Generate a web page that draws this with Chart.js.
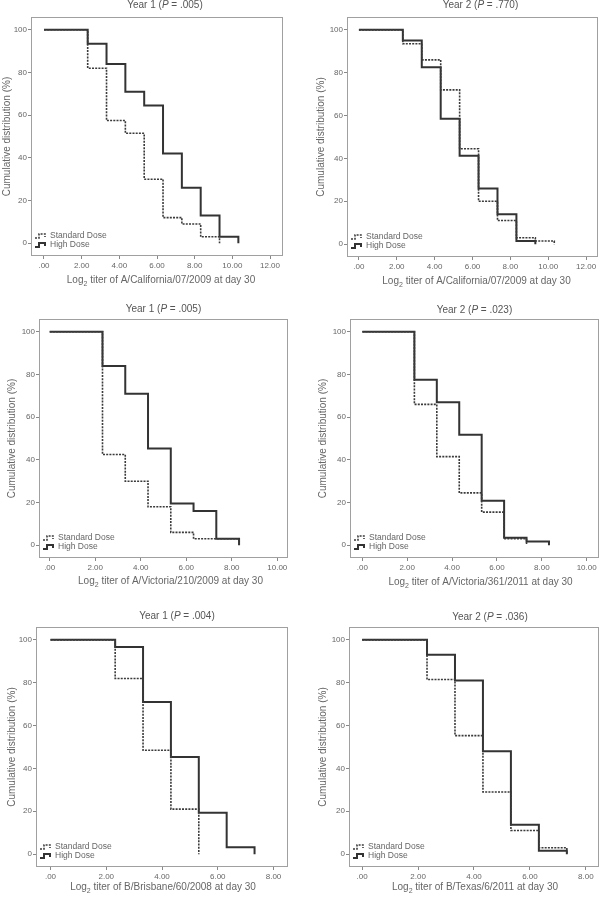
<!DOCTYPE html>
<html>
<head>
<meta charset="utf-8">
<script src="https://cdn.jsdelivr.net/npm/chart.js@4.4.1/dist/chart.umd.min.js"></script>
<style>
  body { margin: 0; background: #fff; width: 603px; height: 899px; overflow: hidden; position: relative; }
  canvas { position: absolute; }
</style>
</head>
<body>
<canvas id="p1"></canvas>
<canvas id="p2"></canvas>
<canvas id="p3"></canvas>
<canvas id="p4"></canvas>
<canvas id="p5"></canvas>
<canvas id="p6"></canvas>
<script>
// log2 titer steps (x) and cumulative distribution (%)
var titers = [0, 2.32, 3.32, 4.32, 5.32, 6.32, 7.32, 8.32, 9.32, 10.32];

var calY1Std  = [100, 82, 57.5, 51.5, 30, 12, 9, 3, 0];
var calY1High = [100, 93.5, 84, 71, 64.5, 42, 26, 13, 3, 0];
var calY2Std  = [100, 93.5, 86, 72, 44.5, 20, 11, 3, 1.5, 0];
var calY2High = [100, 95, 82.5, 58.5, 41.3, 26, 14, 1.5, 0];

var vic1StdX  = [0, 2.32, 3.32, 4.32, 5.32, 6.32, 8.32];
var vic1Std   = [100, 42.5, 30, 18, 6, 3, 0];
var vic1High  = [100, 84, 71, 45.3, 19.5, 16, 3, 0];
var vic2Std   = [100, 66, 41.5, 24.5, 15.5, 3, 0];
var vic2High  = [100, 77.5, 67, 51.8, 20.8, 3.5, 1.7, 0];

var bris1Std  = [100, 82, 48.5, 21, 0];
var bris1High = [100, 96.7, 71, 45.3, 19.3, 3.2, 0];
var tex2Std   = [100, 81.5, 55.3, 29, 11, 3, 0];
var tex2High  = [100, 93, 81, 48, 13.7, 1.6, 0];

var seriesLabels = ['Standard Dose', 'High Dose'];
var yearLabels = ['Year 1', 'Year 2'];
var pValues = ['.005', '.770', '.005', '.023', '.004', '.036'];
var strains = ['A/California/07/2009', 'A/California/07/2009', 'A/Victoria/210/2009',
               'A/Victoria/361/2011', 'B/Brisbane/60/2008', 'B/Texas/6/2011'];
var yTicks = [0, 20, 40, 60, 80, 100];

var FONT = "'Liberation Sans', Arial, sans-serif";
var TXT = '#666';

function pts(xs, ys) {
  return ys.map(function(y, i){ return {x: xs[i], y: y}; });
}

// panel layout (page pixels)
var panels = [
  {id:'p1', l:0,   t:0,   w:300, h:295, padT:17, padR:17, yW:31, xH:39, xTop:12, pad:0.69, titleDx:8,  titleDy:12, xtDx:4,  xtDy:24,
   std: pts(titers, calY1Std), high: pts(titers, calY1High), year:0},
  {id:'p2', l:314, t:0,   w:289, h:295, padT:17, padR:5,  yW:33, xH:38, xTop:12, pad:0.63, titleDx:8,  titleDy:12, xtDx:4,  xtDy:24,
   std: pts(titers, calY2Std), high: pts(titers, calY2High), year:1},
  {id:'p3', l:5,   t:295, w:295, h:300, padT:24, padR:12, yW:34, xH:37, xTop:10, pad:0.47, titleDx:0,  titleDy:10, xtDx:7,  xtDy:23,
   std: pts(vic1StdX, vic1Std), high: pts(titers, vic1High), year:0},
  {id:'p4', l:316, t:295, w:287, h:300, padT:24, padR:4,  yW:34, xH:37, xTop:10, pad:0.55, titleDx:0,  titleDy:9,  xtDx:6,  xtDy:24,
   std: pts(titers, vic2Std), high: pts(titers, vic2High), year:1},
  {id:'p5', l:5,   t:595, w:295, h:304, padT:32, padR:12, yW:31, xH:32, xTop:8,  pad:0.52, titleDx:15, titleDy:11, xtDx:1,  xtDy:20,
   std: pts(titers, bris1Std), high: pts(titers, bris1High), year:0},
  {id:'p6', l:316, t:595, w:287, h:304, padT:32, padR:4,  yW:33, xH:32, xTop:8,  pad:0.47, titleDx:16, titleDy:10, xtDx:1,  xtDy:20,
   std: pts(titers, tex2Std), high: pts(titers, tex2High), year:1}
];

// frame, panel title, x-axis title with subscript, and inline legend
var decor = {
  id: 'decor',
  afterDraw: function(chart, args, o) {
    var ctx = chart.ctx, a = chart.chartArea;
    var cx = (a.left + a.right) / 2;
    ctx.save();
    ctx.strokeStyle = '#a0a0a0';
    ctx.lineWidth = 1;
    ctx.strokeRect(Math.round(a.left) + 0.5, Math.round(a.top) + 0.5,
                   Math.round(a.right - a.left) - 1, Math.round(a.bottom - a.top) - 1);

    ctx.fillStyle = '#555';
    ctx.textBaseline = 'middle';
    ctx.textAlign = 'left';

    // title: Year n (P = .xxx)
    var parts = [[o.year + ' (', 'normal'], ['P', 'italic'], [' = ' + o.p + ')', 'normal']];
    var total = 0;
    parts.forEach(function(p){ ctx.font = p[1] + ' 10px ' + FONT; p.push(ctx.measureText(p[0]).width); total += p[2]; });
    var x = cx + o.titleDx - total / 2, y = a.top - o.titleDy;
    parts.forEach(function(p){ ctx.font = p[1] + ' 10px ' + FONT; ctx.fillText(p[0], x, y); x += p[2]; });

    // x-axis title: Log2 titer of ... at day 30
    ctx.fillStyle = TXT;
    var rest = ' titer of ' + o.strain + ' at day 30';
    ctx.font = '10px ' + FONT;
    var wLog = ctx.measureText('Log').width, wRest = ctx.measureText(rest).width;
    ctx.font = '7px ' + FONT;
    var wSub = ctx.measureText('2').width;
    x = cx + o.xtDx - (wLog + wSub + wRest) / 2;
    y = a.bottom + o.xtDy;
    ctx.font = '10px ' + FONT;
    ctx.fillText('Log', x, y);
    ctx.font = '7px ' + FONT;
    ctx.fillText('2', x + wLog, y + 4);
    ctx.font = '10px ' + FONT;
    ctx.fillText(rest, x + wLog + wSub, y);

    // legend
    ctx.font = '8.5px ' + FONT;
    chart.data.datasets.forEach(function(ds, i) {
      var ly = a.bottom - 20 + i * 9, lx = a.left + 4;
      ctx.save();
      ctx.strokeStyle = ds.borderColor;
      ctx.lineWidth = ds.borderWidth;
      ctx.setLineDash(ds.borderDash || []);
      ctx.beginPath();
      ctx.moveTo(lx, ly + 2);
      ctx.lineTo(lx + 4, ly + 2);
      ctx.lineTo(lx + 4, ly - 2);
      ctx.lineTo(lx + 10, ly - 2);
      ctx.lineTo(lx + 10, ly + 1);
      ctx.stroke();
      ctx.restore();
      ctx.fillStyle = TXT;
      ctx.fillText(ds.label, lx + 15, ly);
    });
    ctx.restore();
  }
};

function fmt(v) {
  return v === 0 ? '.00' : v.toFixed(2);
}

panels.forEach(function(p, k) {
  var cv = document.getElementById(p.id);
  cv.width = p.w; cv.height = p.h;
  cv.style.left = p.l + 'px'; cv.style.top = p.t + 'px';
  new Chart(cv.getContext('2d'), {
    type: 'line',
    data: {
      datasets: [
        { label: seriesLabels[0], data: p.std, stepped: 'before', borderColor: '#3a3a3a',
          borderWidth: 1.6, borderDash: [2, 1.2], pointRadius: 0, fill: false },
        { label: seriesLabels[1], data: p.high, stepped: 'before', borderColor: '#333',
          borderWidth: 2, pointRadius: 0, fill: false }
      ]
    },
    options: {
      responsive: false,
      animation: false,
      layout: { padding: { top: p.padT, right: p.padR, left: 0, bottom: 0 } },
      plugins: {
        legend: { display: false },
        tooltip: { enabled: false },
        decor: { year: yearLabels[p.year], p: pValues[k], strain: strains[k],
                 titleDx: p.titleDx, titleDy: p.titleDy, xtDx: p.xtDx, xtDy: p.xtDy }
      },
      scales: {
        x: {
          type: 'linear',
          min: -p.pad, max: p.xTop + p.pad,
          afterFit: function(s) { s.height = p.xH; },
          border: { display: false },
          grid: { drawOnChartArea: false, tickLength: 3, color: '#888' },
          ticks: { stepSize: 2, includeBounds: false, maxRotation: 0, autoSkip: false,
                   padding: 2, color: TXT, font: { size: 8, family: FONT }, callback: fmt }
        },
        y: {
          min: -6, max: 106,
          afterFit: function(s) { s.width = p.yW; },
          afterBuildTicks: function(s) { s.ticks = yTicks.map(function(v){ return {value: v}; }); },
          border: { display: false },
          grid: { drawOnChartArea: false, tickLength: 3, color: '#888' },
          ticks: { padding: 1, color: TXT, font: { size: 8, family: FONT } },
          title: { display: true, text: 'Cumulative distribution (%)', color: TXT,
                   font: { size: 10, family: FONT }, padding: { top: 1, bottom: 0 } }
        }
      }
    },
    plugins: [decor]
  });
});
</script>
</body>
</html>
